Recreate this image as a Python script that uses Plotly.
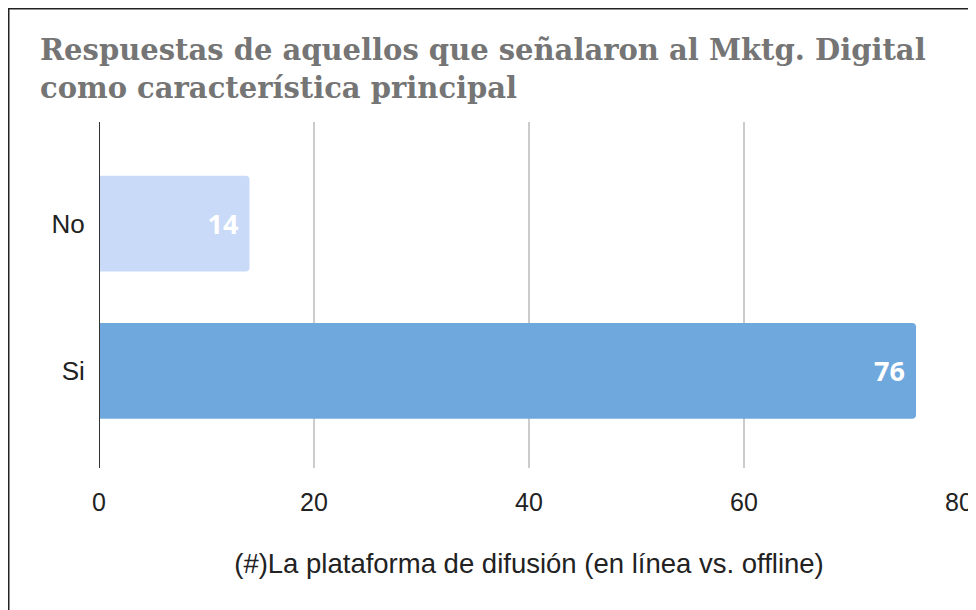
import plotly.graph_objects as go

categories = ["Si", "No"]
values = [76, 14]
bar_colors = ["#6fa8dc", "#c9daf8"]
x_ticks = [0, 20, 40, 60, 80]

TITLE = "Respuestas de aquellos que señalaron al Mktg. Digital<br>como característica principal"
X_TITLE = "(#)La plataforma de difusión (en línea vs. offline)"

# the page body adds an 8px offset; the right part of the figure runs past the window
W, H = 976, 602
L, R, T, B = 91, 25, 114, 142
PW, PH = W - L - R, H - T - B

fig = go.Figure(go.Bar(
    x=values,
    y=categories,
    orientation="h",
    marker=dict(color=bar_colors, cornerradius=4, line=dict(width=0)),
    width=0.65,
    text=[f"{v}\u00a0" for v in values],
    textposition="inside",
    insidetextanchor="end",
    textfont=dict(family="Open Sans", size=27, color="white", weight="bold"),
    hoverinfo="skip",
))

fig.update_layout(
    width=W,
    height=H,
    paper_bgcolor="white",
    plot_bgcolor="white",
    showlegend=False,
    margin=dict(l=L, r=R, t=T, b=B, autoexpand=False),
    title=dict(
        text=TITLE,
        x=32 / W, xref="container", xanchor="left",
        y=1 - 52 / H, yref="container", yanchor="top",
        font=dict(family="DejaVu Serif", size=29, color="#757575", weight="bold"),
    ),
    xaxis=dict(
        range=[0, 80],
        tickvals=x_ticks,
        automargin=False,
        showgrid=True,
        gridcolor="#cccccc",
        gridwidth=2,
        zeroline=False,
        showline=False,
        ticks="outside",
        ticklen=12,
        tickcolor="rgba(0,0,0,0)",
        tickfont=dict(family="Liberation Sans", size=25, color="#222222"),
        title=dict(text=X_TITLE, standoff=38,
                   font=dict(family="Liberation Sans", size=27.5, color="#222222")),
    ),
    yaxis=dict(
        type="category",
        categoryorder="array",
        categoryarray=categories,
        range=[-0.66, 1.69],
        automargin=False,
        showgrid=False,
        zeroline=False,
        ticks="outside",
        ticklen=8,
        tickcolor="rgba(0,0,0,0)",
        tickfont=dict(family="Liberation Sans", size=26, color="#222222"),
    ),
    shapes=[
        # black zero line
        dict(type="line", xref="x", yref="paper", x0=0, x1=0, y0=0, y1=1,
             line=dict(color="#333333", width=2), layer="above"),
        # outer frame (cropped on the right and bottom)
        dict(type="rect", xref="paper", yref="paper",
             x0=-(L - 0.75) / PW, x1=1.2, y0=-0.6, y1=(PH + T - 0.75) / PH,
             line=dict(color="#222222", width=1.5)),
    ],
)

fig.write_html("out.html")
